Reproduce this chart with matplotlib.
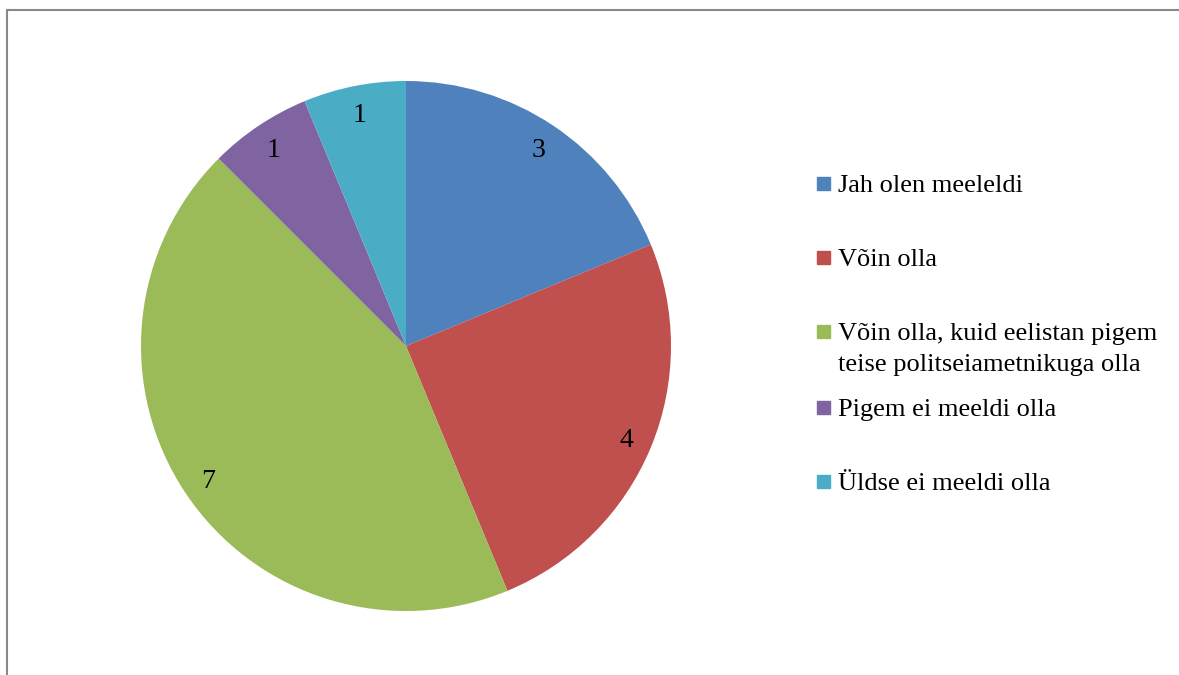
import matplotlib.pyplot as plt
from matplotlib.lines import Line2D
from matplotlib.patches import Rectangle

# Survey answers and counts
labels = ['Jah olen meeleldi', 'Võin olla',
          'Võin olla, kuid eelistan pigem\nteise politseiametnikuga olla',
          'Pigem ei meeldi olla', 'Üldse ei meeldi olla']
counts = [3, 4, 7, 1, 1]
colors = ['#4F81BD', '#C0504D', '#9BBB59', '#8064A2', '#4BACC6']

W, H = 1179, 675
plt.rcParams['font.family'] = ['Liberation Serif', 'DejaVu Serif']

fig = plt.figure(figsize=(W / 100, H / 100), dpi=100)

# pie axes: centre (406, 346) px, radius 265 px
cx, cy, r = 406, 346, 265
ax = fig.add_axes([(cx - r) / W, (H - cy - r) / H, 2 * r / W, 2 * r / H])
wedges, texts = ax.pie(counts, colors=colors, startangle=90, counterclock=False,
                       labels=[str(c) for c in counts], labeldistance=0.9,
                       textprops={'fontsize': 20, 'ha': 'center',
                                  'va': 'center_baseline'})
ax.set_xlim(-1, 1)
ax.set_ylim(-1, 1)
ax.axis('off')

# legend, drawn by hand to keep Excel-like spacing
legend_y = [184, 258, 332, 408, 482]
for lab, col, y in zip(labels, colors, legend_y):
    fig.add_artist(Rectangle((817 / W, 1 - (y + 6) / H), 13 / W, 13 / H,
                             transform=fig.transFigure, color=col))
    fig.text(838 / W, 1 - (y - 9) / H, lab, fontsize=19, va='top', ha='left',
             linespacing=1.5)

# chart frame (cropped at right and bottom)
frame = '#898989'
fig.add_artist(Line2D([7 / W, 7 / W], [0, 1 - 10 / H], color=frame, lw=1.5,
                      transform=fig.transFigure))
fig.add_artist(Line2D([7 / W, 1], [1 - 10 / H, 1 - 10 / H], color=frame, lw=1.5,
                      transform=fig.transFigure))

fig.savefig('out.png', dpi=100)
